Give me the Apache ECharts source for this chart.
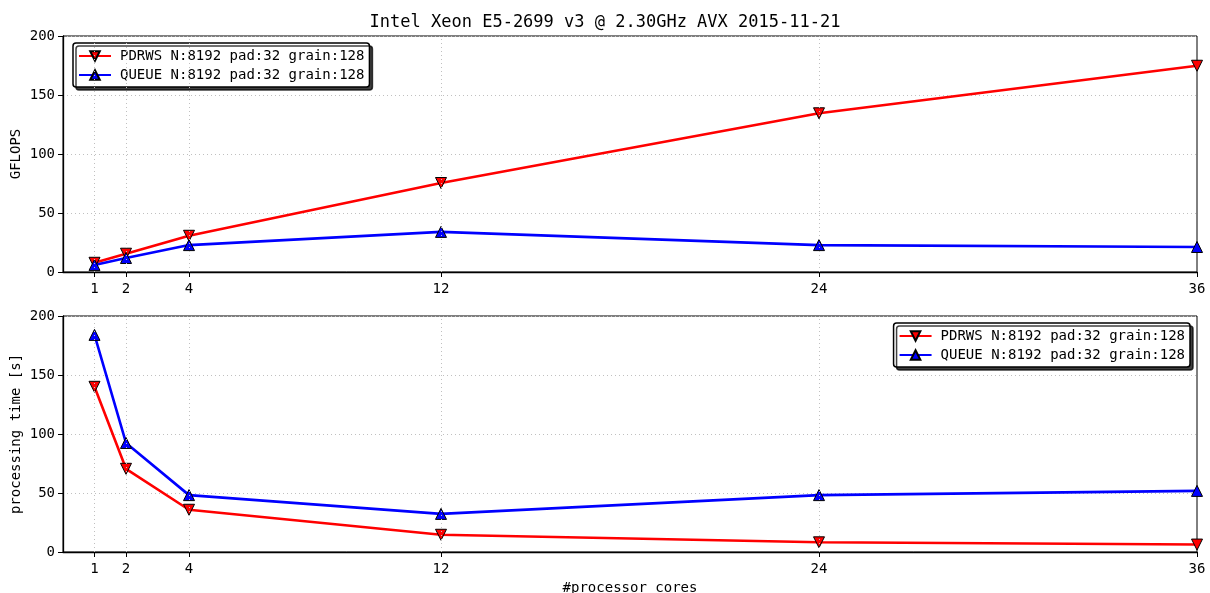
<!DOCTYPE html>
<html><head><meta charset="utf-8">
<script src="https://cdn.jsdelivr.net/npm/echarts@6/dist/echarts.min.js"></script>
<style>html,body{margin:0;padding:0;background:#fff}#c{width:1210px;height:593px}</style>
</head><body><div id="c"></div>
<script>
const cores = [1, 2, 4, 12, 24, 36];
const xTicks = [1, 2, 4, 12, 24, 36];
const gflopsPDRWS = [7.8, 15.5, 30.7, 75.4, 134.5, 174.8];
const gflopsQUEUE = [6.0, 11.9, 22.8, 34.0, 22.8, 21.2];
const timePDRWS = [140.0, 70.5, 35.8, 14.6, 8.2, 6.3];
const timeQUEUE = [184.0, 92.4, 48.2, 32.3, 48.2, 51.8];
const seriesNames = ['PDRWS N:8192 pad:32 grain:128', 'QUEUE N:8192 pad:32 grain:128'];
const titleText = 'Intel Xeon E5-2699 v3 @ 2.30GHz AVX 2015-11-21';
const yNames = ['GFLOPS', 'processing time [s]'];

const FONT = 'DejaVu Sans Mono';
const gridLine = { color: '#c0c0c0', type: [1, 3], width: 1 };

function pts(ys) { return cores.map((x, i) => [x, ys[i]]); }

function xAxis(gi, withName) {
  return {
    type: 'value', gridIndex: gi, min: 0, max: 36,
    axisLine: { show: true, lineStyle: { color: '#000', width: 1.3 } },
    axisTick: { show: true, length: 5, customValues: xTicks, lineStyle: { color: '#000' } },
    axisLabel: { customValues: xTicks, color: '#000', fontFamily: FONT, fontSize: 14, margin: 10 },
    splitLine: { show: false },
    name: withName ? '#processor cores' : '',
    nameLocation: 'middle', nameGap: 29,
    nameTextStyle: { color: '#000', fontFamily: FONT, fontSize: 14 }
  };
}
function yAxis(gi) {
  return {
    type: 'value', gridIndex: gi, min: 0, max: 200, interval: 50,
    axisLine: { show: true, lineStyle: { color: '#000', width: 1.3 } },
    axisTick: { show: true, length: 5, lineStyle: { color: '#000' } },
    axisLabel: { color: '#000', fontFamily: FONT, fontSize: 14, margin: 8 },
    splitLine: { show: true, lineStyle: gridLine }
  };
}
function yName(text, cy) {
  return {
    type: 'text', x: 16, y: cy, rotation: Math.PI / 2, silent: true,
    style: { text: text, fill: '#000', font: '14px "' + FONT + '"', align: 'center', verticalAlign: 'middle' }
  };
}
function vLines() {
  return {
    silent: true, symbol: 'none', label: { show: false },
    lineStyle: gridLine, animation: false,
    data: xTicks.slice(0, -1).map(v => ({ xAxis: v }))
  };
}
function line(name, data, gi, color, down, withGrid) {
  const s = {
    name: name, type: 'line', xAxisIndex: gi, yAxisIndex: gi, data: pts(data),
    symbol: 'triangle', symbolSize: 11, symbolRotate: down ? 180 : 0,
    lineStyle: { color: color, width: 2.6 },
    itemStyle: { color: color, borderColor: '#000', borderWidth: 1 },
    z: 3
  };
  if (withGrid) s.markLine = vLines();
  return s;
}
function legend(gi, pos) {
  return Object.assign({
    orient: 'vertical', data: seriesNames, backgroundColor: '#fff',
    borderColor: '#000', borderWidth: 1.5, borderRadius: 3,
    shadowColor: 'rgba(0,0,0,0.75)', shadowOffsetX: 3, shadowOffsetY: 3, shadowBlur: 0,
    padding: [6, 5, 5, 5], itemGap: 5, itemWidth: 32, itemHeight: 12,
    textStyle: { color: '#000', fontFamily: FONT, fontSize: 14, height: 16, padding: [0, 0, 0, 4] }
  }, pos);
}

const chart = echarts.init(document.getElementById('c'), null, { renderer: 'canvas' });
chart.setOption({
  animation: false,
  title: { text: titleText, left: 'center', top: 9, textStyle: { fontFamily: FONT, fontSize: 17, fontWeight: 'normal', color: '#000' } },
  grid: [
    { left: 63, right: 13, top: 36, height: 236, show: true, borderColor: '#000', borderWidth: 1, backgroundColor: 'transparent', outerBoundsMode: 'none', containLabel: false },
    { left: 63, right: 13, top: 316, height: 236, show: true, borderColor: '#000', borderWidth: 1, backgroundColor: 'transparent', outerBoundsMode: 'none', containLabel: false }
  ],
  graphic: [yName(yNames[0], 154), yName(yNames[1], 434)],
  legend: [
    legend(0, { left: 73, top: 43 }),
    legend(1, { right: 20, top: 323 })
  ],
  xAxis: [xAxis(0, false), xAxis(1, true)],
  yAxis: [yAxis(0), yAxis(1)],
  series: [
    line(seriesNames[0], gflopsPDRWS, 0, '#ff0000', true, true),
    line(seriesNames[1], gflopsQUEUE, 0, '#0000ff', false, false),
    line(seriesNames[0], timePDRWS, 1, '#ff0000', true, true),
    line(seriesNames[1], timeQUEUE, 1, '#0000ff', false, false)
  ]
});
</script></body></html>
